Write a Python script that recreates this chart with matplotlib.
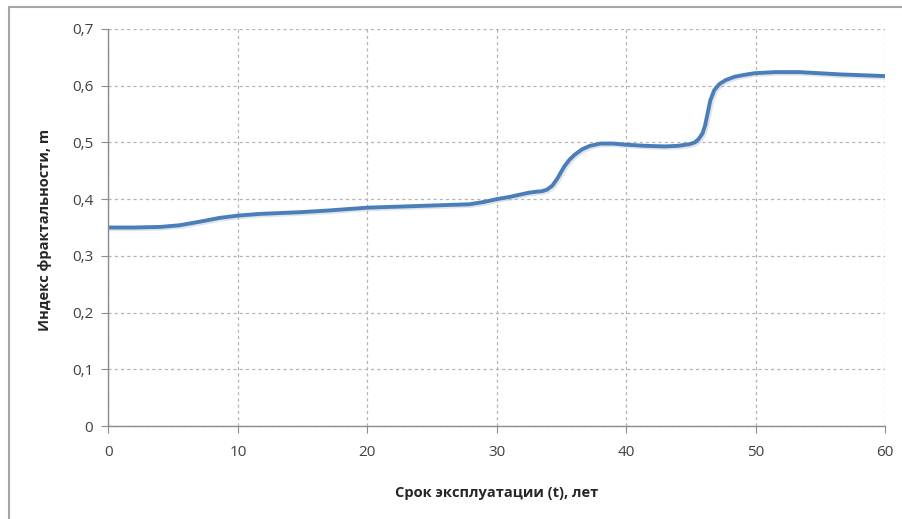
import numpy as np
import matplotlib
matplotlib.use("Agg")
import matplotlib.pyplot as plt
from matplotlib.patches import Rectangle
from matplotlib.ticker import FuncFormatter, MultipleLocator

plt.rcParams['font.family'] = ['Open Sans', 'DejaVu Sans']

# values
t_years = [0, 2, 4, 5.5, 7, 8.6, 10, 11.7, 14.8, 17, 20, 24, 27.9, 29, 30,
           31, 31.8, 32.4, 33, 33.5, 33.9, 34.3, 34.7, 35.2, 35.6, 36, 36.6,
           37.2, 38, 39, 40, 41.5, 43, 44, 44.9, 45.3, 45.6, 45.9, 46.1, 46.3,
           46.5, 46.8, 47.2, 47.7, 48.4, 49.1, 49.9, 51.5, 53.4, 56.5, 60]
m_index = [0.350, 0.350, 0.351, 0.354, 0.360, 0.367, 0.371, 0.374, 0.377, 0.380,
           0.385, 0.388, 0.391, 0.395, 0.400, 0.404, 0.408, 0.411, 0.413, 0.414,
           0.417, 0.424, 0.437, 0.457, 0.469, 0.478, 0.488, 0.494, 0.498, 0.498,
           0.496, 0.494, 0.493, 0.494, 0.497, 0.500, 0.506, 0.516, 0.530, 0.552,
           0.574, 0.592, 0.603, 0.610, 0.616, 0.619, 0.622, 0.624, 0.624, 0.620,
           0.617]

x_label = "Срок эксплуатации (t), лет"
y_label = "Индекс фрактальности, m"

W, H = 903, 519
fig = plt.figure(figsize=(W / 100, H / 100), dpi=100)

# outer chart frame (only left/top visible in the reference)
fig.patches.append(Rectangle((8.5 / W, -0.1), 1.2, 1 - 7.5 / H + 0.1,
                             transform=fig.transFigure, fill=False,
                             edgecolor='#a6a6a6', lw=1.5))

ax = fig.add_axes([108.5 / W, 1 - 426 / H, (885 - 108.5) / W, (426 - 29) / H])

# faint shadow under the line, like Excel
ax.plot(np.array(t_years) + 0.12, np.array(m_index) - 0.0025, color='#9aa8b8',
        lw=3.2, alpha=0.3, solid_capstyle='round', solid_joinstyle='round')
ax.plot(t_years, m_index, color='#4a7ebb', lw=2.8, solid_capstyle='round',
        solid_joinstyle='round')

ax.set_xlim(0, 60)
ax.set_ylim(0, 0.7)
ax.xaxis.set_major_locator(MultipleLocator(10))
ax.yaxis.set_major_locator(MultipleLocator(0.1))
ax.yaxis.set_major_formatter(FuncFormatter(
    lambda v, p: "0" if abs(v) < 1e-9 else ("%.1f" % v).replace(".", ",")))

ax.grid(True, color='#b4b4b4', linestyle=(0, (2.5, 2.5)), lw=0.9)
for s in ['top', 'right']:
    ax.spines[s].set_visible(False)
for s in ['left', 'bottom']:
    ax.spines[s].set_color('#8c8c8c')
    ax.spines[s].set_linewidth(1.0)
ax.tick_params(direction='out', length=5, color='#8c8c8c',
               labelsize=11, labelcolor='#404040', pad=6)
ax.tick_params(axis='x', pad=9)

fig.text(497 / W, 1 - 493 / H, x_label, ha='center', va='center',
         fontsize=10.5, fontweight='bold', color='#262626')
fig.text(45 / W, 1 - 230 / H, y_label, ha='center', va='center', rotation=90,
         fontsize=10.5, fontweight='bold', color='#262626')

fig.savefig("out.png", dpi=100)
